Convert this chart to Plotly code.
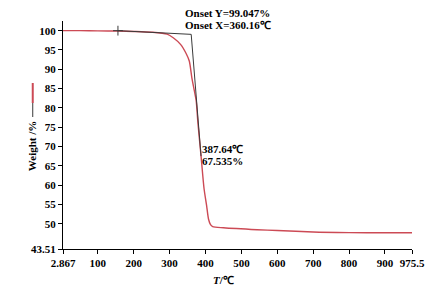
import plotly.graph_objects as go

# TGA curve (temperature in °C, weight in %)
temp = [2.867, 50, 100, 156, 200, 250, 293, 311, 331, 346, 355, 362, 369, 374, 379,
        387.64, 396, 403, 408.5, 414, 420, 450, 544, 600, 700, 800, 900, 975.5]
weight = [100.0, 100.0, 99.95, 99.9, 99.8, 99.6, 99.1, 98.1, 96.4, 94.1, 92.1, 87.8, 84.4, 81.9, 76.0,
          67.535, 59.1, 54.8, 51.2, 49.8, 49.3, 49.0, 48.5, 48.3, 47.9, 47.75, 47.7, 47.7]

# onset construction (baseline + tangent)
tangent_t = [156, 360.16, 387.64]
tangent_w = [100.0, 99.047, 67.535]
marker_t = [156]
marker_w = [100.0]

x_ticks = [2.867, 100, 200, 300, 400, 500, 600, 700, 800, 900, 975.5]
x_ticktext = ["2.867", "100", "200", "300", "400", "500", "600", "700", "800", "900", "975.5"]
y_ticks = [43.51, 50, 55, 60, 65, 70, 75, 80, 85, 90, 95, 100]
y_ticktext = ["43.51", "50", "55", "60", "65", "70", "75", "80", "85", "90", "95", "100"]

FONT = "Liberation Serif"
RED = "#cc4a55"
DARK = "#3a3a3a"

fig = go.Figure()
fig.add_trace(go.Scatter(x=temp, y=weight, mode="lines",
                         line=dict(color=RED, width=1.4, shape="spline", smoothing=0.7),
                         showlegend=False, hoverinfo="skip"))
fig.add_trace(go.Scatter(x=tangent_t, y=tangent_w, mode="lines",
                         line=dict(color=DARK, width=1), showlegend=False, hoverinfo="skip"))
fig.add_trace(go.Scatter(x=marker_t, y=marker_w, mode="markers",
                         marker=dict(symbol="cross-thin", size=7, line=dict(color=DARK, width=1)),
                         showlegend=False, hoverinfo="skip"))

ann_font = dict(family=FONT, size=11, color="black")
annotations = [
    dict(text="<b>Onset Y=99.047%</b>", x=0.3466, y=1.036, xref="paper", yref="paper",
         xanchor="left", yanchor="middle", showarrow=False, font=ann_font, borderpad=0),
    dict(text="<b>Onset X=360.16℃</b>", x=0.3466, y=0.982, xref="paper", yref="paper",
         xanchor="left", yanchor="middle", showarrow=False, font=ann_font, borderpad=0),
    dict(text="<b>387.64℃</b>", x=0.3946, y=0.4386, xref="paper", yref="paper",
         xanchor="left", yanchor="middle", showarrow=False, font=ann_font, borderpad=0),
    dict(text="<b>67.535%</b>", x=0.3946, y=0.388, xref="paper", yref="paper",
         xanchor="left", yanchor="middle", showarrow=False, font=ann_font, borderpad=0),
    dict(text="<b>Weight /%</b>", x=-0.0867, y=0.45, xref="paper", yref="paper",
         xanchor="center", yanchor="middle", textangle=-90, showarrow=False, font=ann_font),
    dict(text="<b><i>T</i>/℃</b>", x=0.46, y=-0.10, xref="paper", yref="paper",
         xanchor="center", yanchor="top", showarrow=False, font=ann_font),
]

shapes = [
    dict(type="line", xref="paper", yref="paper", x0=-0.0867, x1=-0.0867,
         y0=(249 - 83) / 228, y1=(249 - 103) / 228, line=dict(color=RED, width=2)),
    dict(type="line", xref="paper", yref="paper", x0=-0.0867, x1=-0.0867,
         y0=(249 - 103) / 228, y1=(249 - 117) / 228, line=dict(color=DARK, width=1)),
]

# page body has an 8px default margin, so the figure is sized to fit the window
fig.update_layout(
    width=429, height=282,
    margin=dict(l=55, r=20, t=13, b=41),
    paper_bgcolor="white", plot_bgcolor="white",
    font=dict(family=FONT, size=11, color="black"),
    annotations=annotations, shapes=shapes,
    xaxis=dict(range=[2.867, 975.5], tickvals=x_ticks,
               ticktext=["<b>%s</b>" % t for t in x_ticktext],
               showline=True, linecolor="black", linewidth=1, ticks="outside",
               ticklen=4, tickcolor="black", showgrid=False, zeroline=False,
               tickfont=dict(family=FONT, size=11, color="black")),
    yaxis=dict(range=[43.51, 102.5], tickvals=y_ticks,
               ticktext=["<b>%s</b>" % t for t in y_ticktext],
               showline=True, linecolor="black", linewidth=1, ticks="outside",
               ticklen=4, tickcolor="black", showgrid=False, zeroline=False,
               tickfont=dict(family=FONT, size=11, color="black")),
)

fig.write_html("out.html")
